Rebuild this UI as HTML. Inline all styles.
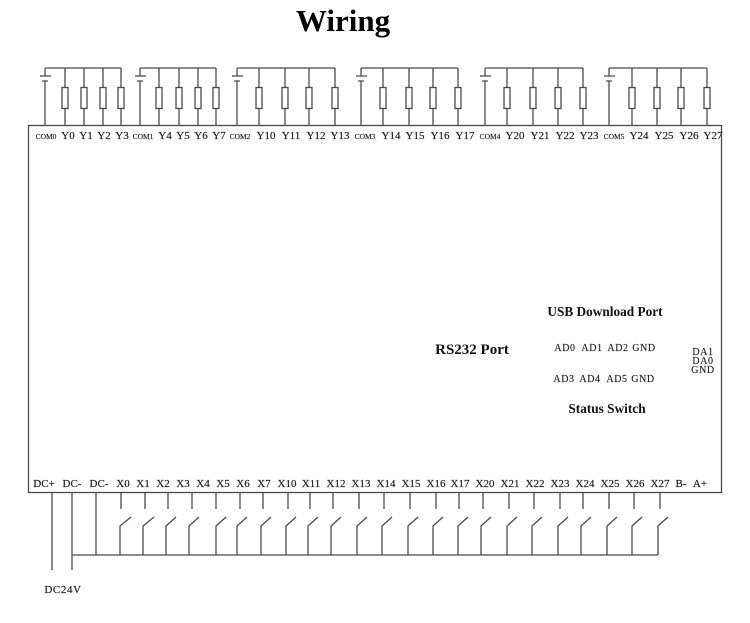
<!DOCTYPE html>
<html>
<head>
<meta charset="utf-8">
<style>
html,body{margin:0;padding:0;background:#fff;width:750px;height:623px;overflow:hidden}
svg{display:block}
text{font-family:"Liberation Serif",serif;fill:#222;text-anchor:middle}
.l{font-size:11px;stroke:#222;stroke-width:.2px}
.c{font-size:7.5px;stroke:#222;stroke-width:.15px}
.a{font-size:10px;letter-spacing:.6px;stroke:#222;stroke-width:.15px}
.b{font-size:13.3px;font-weight:bold;fill:#111}
.w{fill:none;stroke:#4a4a4a;stroke-width:1.3}
.r{fill:#fff;stroke:#4a4a4a;stroke-width:1.3}
</style>
</head>
<body>
<svg width="750" height="623" viewBox="0 0 750 623" xmlns="http://www.w3.org/2000/svg">
<text x="343" y="31" style="font-size:31px;font-weight:bold;fill:#000">Wiring</text>

<rect class="w" x="28.5" y="125.5" width="693" height="367"/>

<!-- Top bus, batteries and output drops -->
<path class="w" d="M45 68H121M45 68V76M40 76H51M42 81H48M45 81V125
M65 68V125M84 68V125M103 68V125M121 68V125
M140 68H216M140 68V76M135 76H146M137 81H143M140 81V125
M159 68V125M179 68V125M198 68V125M216 68V125
M237 68H335M237 68V76M232 76H243M234 81H240M237 81V125
M259 68V125M285 68V125M309 68V125M335 68V125
M361 68H458M361 68V76M356 76H367M358 81H364M361 81V125
M383 68V125M409 68V125M433 68V125M458 68V125
M485 68H583M485 68V76M480 76H491M482 81H488M485 81V125
M507 68V125M533 68V125M558 68V125M583 68V125
M609 68H707M609 68V76M604 76H615M606 81H612M609 81V125
M632 68V125M657 68V125M681 68V125M707 68V125"/>

<!-- Resistors -->
<g class="r">
<rect x="62" y="87.5" width="6" height="21"/><rect x="81" y="87.5" width="6" height="21"/><rect x="100" y="87.5" width="6" height="21"/><rect x="118" y="87.5" width="6" height="21"/>
<rect x="156" y="87.5" width="6" height="21"/><rect x="176" y="87.5" width="6" height="21"/><rect x="195" y="87.5" width="6" height="21"/><rect x="213" y="87.5" width="6" height="21"/>
<rect x="256" y="87.5" width="6" height="21"/><rect x="282" y="87.5" width="6" height="21"/><rect x="306" y="87.5" width="6" height="21"/><rect x="332" y="87.5" width="6" height="21"/>
<rect x="380" y="87.5" width="6" height="21"/><rect x="406" y="87.5" width="6" height="21"/><rect x="430" y="87.5" width="6" height="21"/><rect x="455" y="87.5" width="6" height="21"/>
<rect x="504" y="87.5" width="6" height="21"/><rect x="530" y="87.5" width="6" height="21"/><rect x="555" y="87.5" width="6" height="21"/><rect x="580" y="87.5" width="6" height="21"/>
<rect x="629" y="87.5" width="6" height="21"/><rect x="654" y="87.5" width="6" height="21"/><rect x="678" y="87.5" width="6" height="21"/><rect x="704" y="87.5" width="6" height="21"/>
</g>

<!-- Top labels -->
<g class="c">
<text x="46" y="139">COM0</text><text x="143" y="139">COM1</text><text x="240" y="139">COM2</text><text x="365" y="139">COM3</text><text x="490" y="139">COM4</text><text x="614" y="139">COM5</text>
</g>
<g class="l">
<text x="68" y="139">Y0</text><text x="86" y="139">Y1</text><text x="104" y="139">Y2</text><text x="122" y="139">Y3</text>
<text x="165" y="139">Y4</text><text x="183" y="139">Y5</text><text x="201" y="139">Y6</text><text x="219" y="139">Y7</text>
<text x="266" y="139">Y10</text><text x="291" y="139">Y11</text><text x="316" y="139">Y12</text><text x="340" y="139">Y13</text>
<text x="391" y="139">Y14</text><text x="415" y="139">Y15</text><text x="440" y="139">Y16</text><text x="465" y="139">Y17</text>
<text x="515" y="139">Y20</text><text x="540" y="139">Y21</text><text x="565" y="139">Y22</text><text x="589" y="139">Y23</text>
<text x="639" y="139">Y24</text><text x="664" y="139">Y25</text><text x="689" y="139">Y26</text><text x="713" y="139">Y27</text>
</g>

<!-- Centre labels -->
<text class="b" x="605" y="316">USB Download Port</text>
<text class="b" x="472" y="354" style="font-size:15px">RS232 Port</text>
<text class="b" x="607" y="413" style="font-size:13.3px">Status Switch</text>
<g class="a">
<text x="565" y="351">AD0</text><text x="592" y="351">AD1</text><text x="618" y="351">AD2</text><text x="644" y="351">GND</text>
<text x="564" y="382">AD3</text><text x="590" y="382">AD4</text><text x="617" y="382">AD5</text><text x="643" y="382">GND</text>
<text x="703" y="355">DA1</text><text x="703" y="364">DA0</text><text x="703" y="373">GND</text>
</g>

<!-- Bottom labels -->
<g class="l">
<text x="44" y="487">DC+</text><text x="72" y="487">DC-</text><text x="99" y="487">DC-</text>
<text x="123" y="487">X0</text><text x="143" y="487">X1</text><text x="163" y="487">X2</text><text x="183" y="487">X3</text><text x="203" y="487">X4</text><text x="223" y="487">X5</text><text x="243" y="487">X6</text><text x="264" y="487">X7</text>
<text x="287" y="487">X10</text><text x="311" y="487">X11</text><text x="336" y="487">X12</text><text x="361" y="487">X13</text><text x="386" y="487">X14</text><text x="411" y="487">X15</text><text x="436" y="487">X16</text><text x="460" y="487">X17</text>
<text x="485" y="487">X20</text><text x="510" y="487">X21</text><text x="535" y="487">X22</text><text x="560" y="487">X23</text><text x="585" y="487">X24</text><text x="610" y="487">X25</text><text x="635" y="487">X26</text><text x="660" y="487">X27</text>
<text x="681" y="487">B-</text><text x="700" y="487">A+</text>
<text x="63" y="593" style="letter-spacing:.6px">DC24V</text>
</g>

<!-- Bottom wiring -->
<path class="w" d="M52 492V570M72 492V570M96 492V555M72 555H658
M121 492V509M145 492V509M168 492V509M192 492V509M216 492V509M240 492V509M263 492V509M288 492V509M310 492V509M333 492V509M359 492V509M384 492V509M410 492V509M436 492V509M459 492V509M483 492V509M509 492V509M534 492V509M560 492V509M583 492V509M609 492V509M634 492V509M660 492V509
M120 555V526L131 517M143 555V526L154 517M166 555V526L176 517M189 555V526L199 517M216 555V526L226 517M237 555V526L247 517M261 555V526L271 517M286 555V526L296 517M308 555V526L318 517M331 555V526L341 517M357 555V526L367 517M382 555V526L392 517M408 555V526L418 517M433 555V526L443 517M458 555V526L468 517M481 555V526L491 517M507 555V526L517 517M532 555V526L542 517M558 555V526L568 517M581 555V526L591 517M607 555V526L617 517M632 555V526L642 517M658 555V526L668 517"/>
</svg>
</body>
</html>
